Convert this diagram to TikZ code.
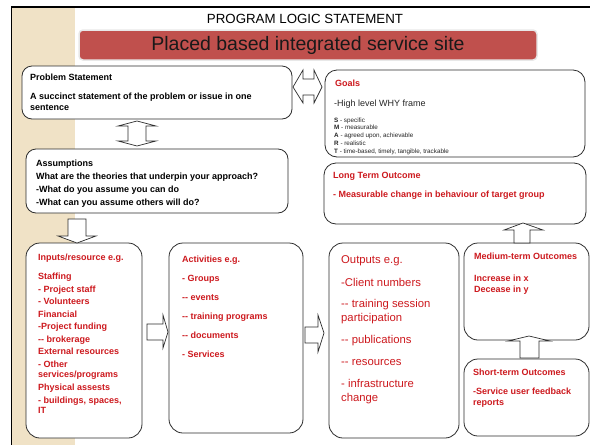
\documentclass[tikz,border=0pt]{standalone}
\usepackage{fontspec}
\setmainfont{Liberation Sans}
\definecolor{txtred}{RGB}{205,25,30}
\definecolor{bannerred}{RGB}{192,80,77}
\definecolor{bannerrim}{RGB}{232,232,232}
\definecolor{beige}{RGB}{240,226,198}
\definecolor{boxline}{RGB}{45,45,45}
\begin{document}
\begin{tikzpicture}[x=1pt,y=-1pt,
  box/.style={draw=boxline, line width=0.8pt, fill=white, rounded corners=12pt, inner sep=0pt},
  barrow/.style={draw=boxline, line width=0.7pt, fill=white, line join=miter},
  txt/.style={anchor=base west, align=left, inner sep=0pt},
  rtxt/.style={txt, text=txtred}
]
\useasboundingbox (0,0) rectangle (590,445);
\fill[white] (0,0) rectangle (590,445);
\fill[beige] (12,8) rectangle (75,445);
\draw[line width=1.8pt] (590,7) -- (11.5,7) -- (11.5,445);

% title and banner
\node[font=\fontsize{13.3}{15}\selectfont, inner sep=0pt] (title) at (305,18.5) {PROGRAM LOGIC STATEMENT};
\node[draw=bannerrim, line width=1.5pt, fill=bannerred, rounded corners=4pt,
      minimum width=458pt, minimum height=30pt, inner sep=0pt,
      font=\fontsize{19.5}{22}\selectfont, text=black!90] (banner) at (308,45) {Placed based integrated service site};

% boxes
\node[box, rounded corners=10pt, minimum width=270pt, minimum height=53pt] (prob) at (157,92.5) {};
\node[box, minimum width=260pt, minimum height=87pt] (goals) at (455,113.5) {};
\node[box, rounded corners=10pt, minimum width=262pt, minimum height=64pt] (assum) at (157,181) {};
\node[box, minimum width=262pt, minimum height=61pt] (lto) at (455,193.5) {};
\node[box, rounded corners=14pt, minimum width=116pt, minimum height=195pt] (inputs) at (84,340.5) {};
\node[box, rounded corners=14pt, minimum width=134pt, minimum height=190pt] (activ) at (236,338) {};
\node[box, rounded corners=14pt, minimum width=130pt, minimum height=195pt] (outputs) at (394,340.5) {};
\node[box, rounded corners=14pt, minimum width=125pt, minimum height=97pt] (medium) at (526.5,291.5) {};
\node[box, rounded corners=14pt, minimum width=125pt, minimum height=77pt] (short) at (526.5,397.5) {};

% block arrows
\draw[barrow] (293,87) -- (303,70) -- (303,79) -- (314,79) -- (314,70) -- (322,87) -- (314,103) -- (314,95) -- (303,95) -- (303,103) -- cycle;
\draw[barrow] (137,121) -- (156,126) -- (146,126) -- (146,141) -- (156,141) -- (137,146) -- (118,141) -- (128,141) -- (128,126) -- (118,126) -- cycle;
\draw[barrow] (68,219) -- (86,219) -- (86,236) -- (96,236) -- (77,243) -- (58,236) -- (68,236) -- cycle;
\draw[barrow] (523,223) -- (543,230) -- (530,230) -- (530,243) -- (514,243) -- (514,230) -- (504,230) -- cycle;
\draw[barrow] (147,324) -- (163,324) -- (163,315) -- (168,332) -- (163,348) -- (163,340) -- (147,340) -- cycle;
\draw[barrow] (305,327) -- (318,327) -- (318,315) -- (324,333) -- (318,352) -- (318,343) -- (305,343) -- cycle;
\draw[barrow] (529,336) -- (550,341) -- (539,341) -- (539,358) -- (520,358) -- (520,341) -- (508,341) -- cycle;

% texts (base = baseline of the last line)
\node[txt, font=\bfseries\fontsize{9}{11}\selectfont] (probtxt) at (30,110.2)
  {Problem Statement\\[8pt]A succinct statement of the problem or issue in one\\sentence};
\node[rtxt, font=\bfseries\fontsize{9}{10}\selectfont] (goalstxt) at (335,86.2) {Goals};
\node[txt, font=\fontsize{9}{10}\selectfont, text=black!85] (whytxt) at (334,106.2) {-High level WHY frame};
\node[txt, font=\fontsize{6.3}{7.75}\selectfont, text=black!85] (smarttxt) at (334,153.2)
  {\textbf{S} - specific\\\textbf{M} - measurable\\\textbf{A} - agreed upon, achievable\\\textbf{R} - realistic\\\textbf{T} - time-based, timely, tangible, trackable};
\node[txt, font=\bfseries\fontsize{9}{13}\selectfont] (assumtxt) at (36,205.2)
  {Assumptions\\What are the theories that underpin your approach?\\-What do you assume you can do\\-What can you assume others will do?};
\node[rtxt, font=\bfseries\fontsize{9}{11}\selectfont] (ltotxt) at (333,197.2)
  {Long Term Outcome\\[8pt]- Measurable change in behaviour of target group};
\node[rtxt, font=\bfseries\fontsize{9}{10}\selectfont] (inputstxt) at (38,413.2)
  {Inputs/resource e.g.\\[9pt]Staffing\\[3pt]- Project staff\\[2pt]- Volunteers\\[3pt]Financial\\[2pt]-Project funding\\[3pt]-{}- brokerage\\[2pt]External resources\\[3pt]- Other\\services/programs\\[3pt]Physical assests\\[3pt]- buildings, spaces,\\IT};
\node[rtxt, font=\bfseries\fontsize{9}{19}\selectfont] (activtxt) at (182,357.2)
  {Activities e.g.\\- Groups\\-{}- events\\-{}- training programs\\-{}- documents\\- Services};
\node[rtxt, font=\fontsize{11.3}{14}\selectfont] (outputstxt) at (341,401)
  {Outputs e.g.\\[9pt]-Client numbers\\[7pt]-{}- training session\\participation\\[8pt]-{}- publications\\[8pt]-{}- resources\\[8pt]- infrastructure\\change};
\node[rtxt, font=\bfseries\fontsize{9}{11}\selectfont] (mediumtxt) at (474,292.2)
  {Medium-term Outcomes\\[11pt]Increase in x\\Decease in y};
\node[rtxt, font=\bfseries\fontsize{9}{11}\selectfont] (shorttxt) at (473,405.2)
  {Short-term Outcomes\\[8pt]-Service user feedback\\reports};
\end{tikzpicture}
\end{document}
